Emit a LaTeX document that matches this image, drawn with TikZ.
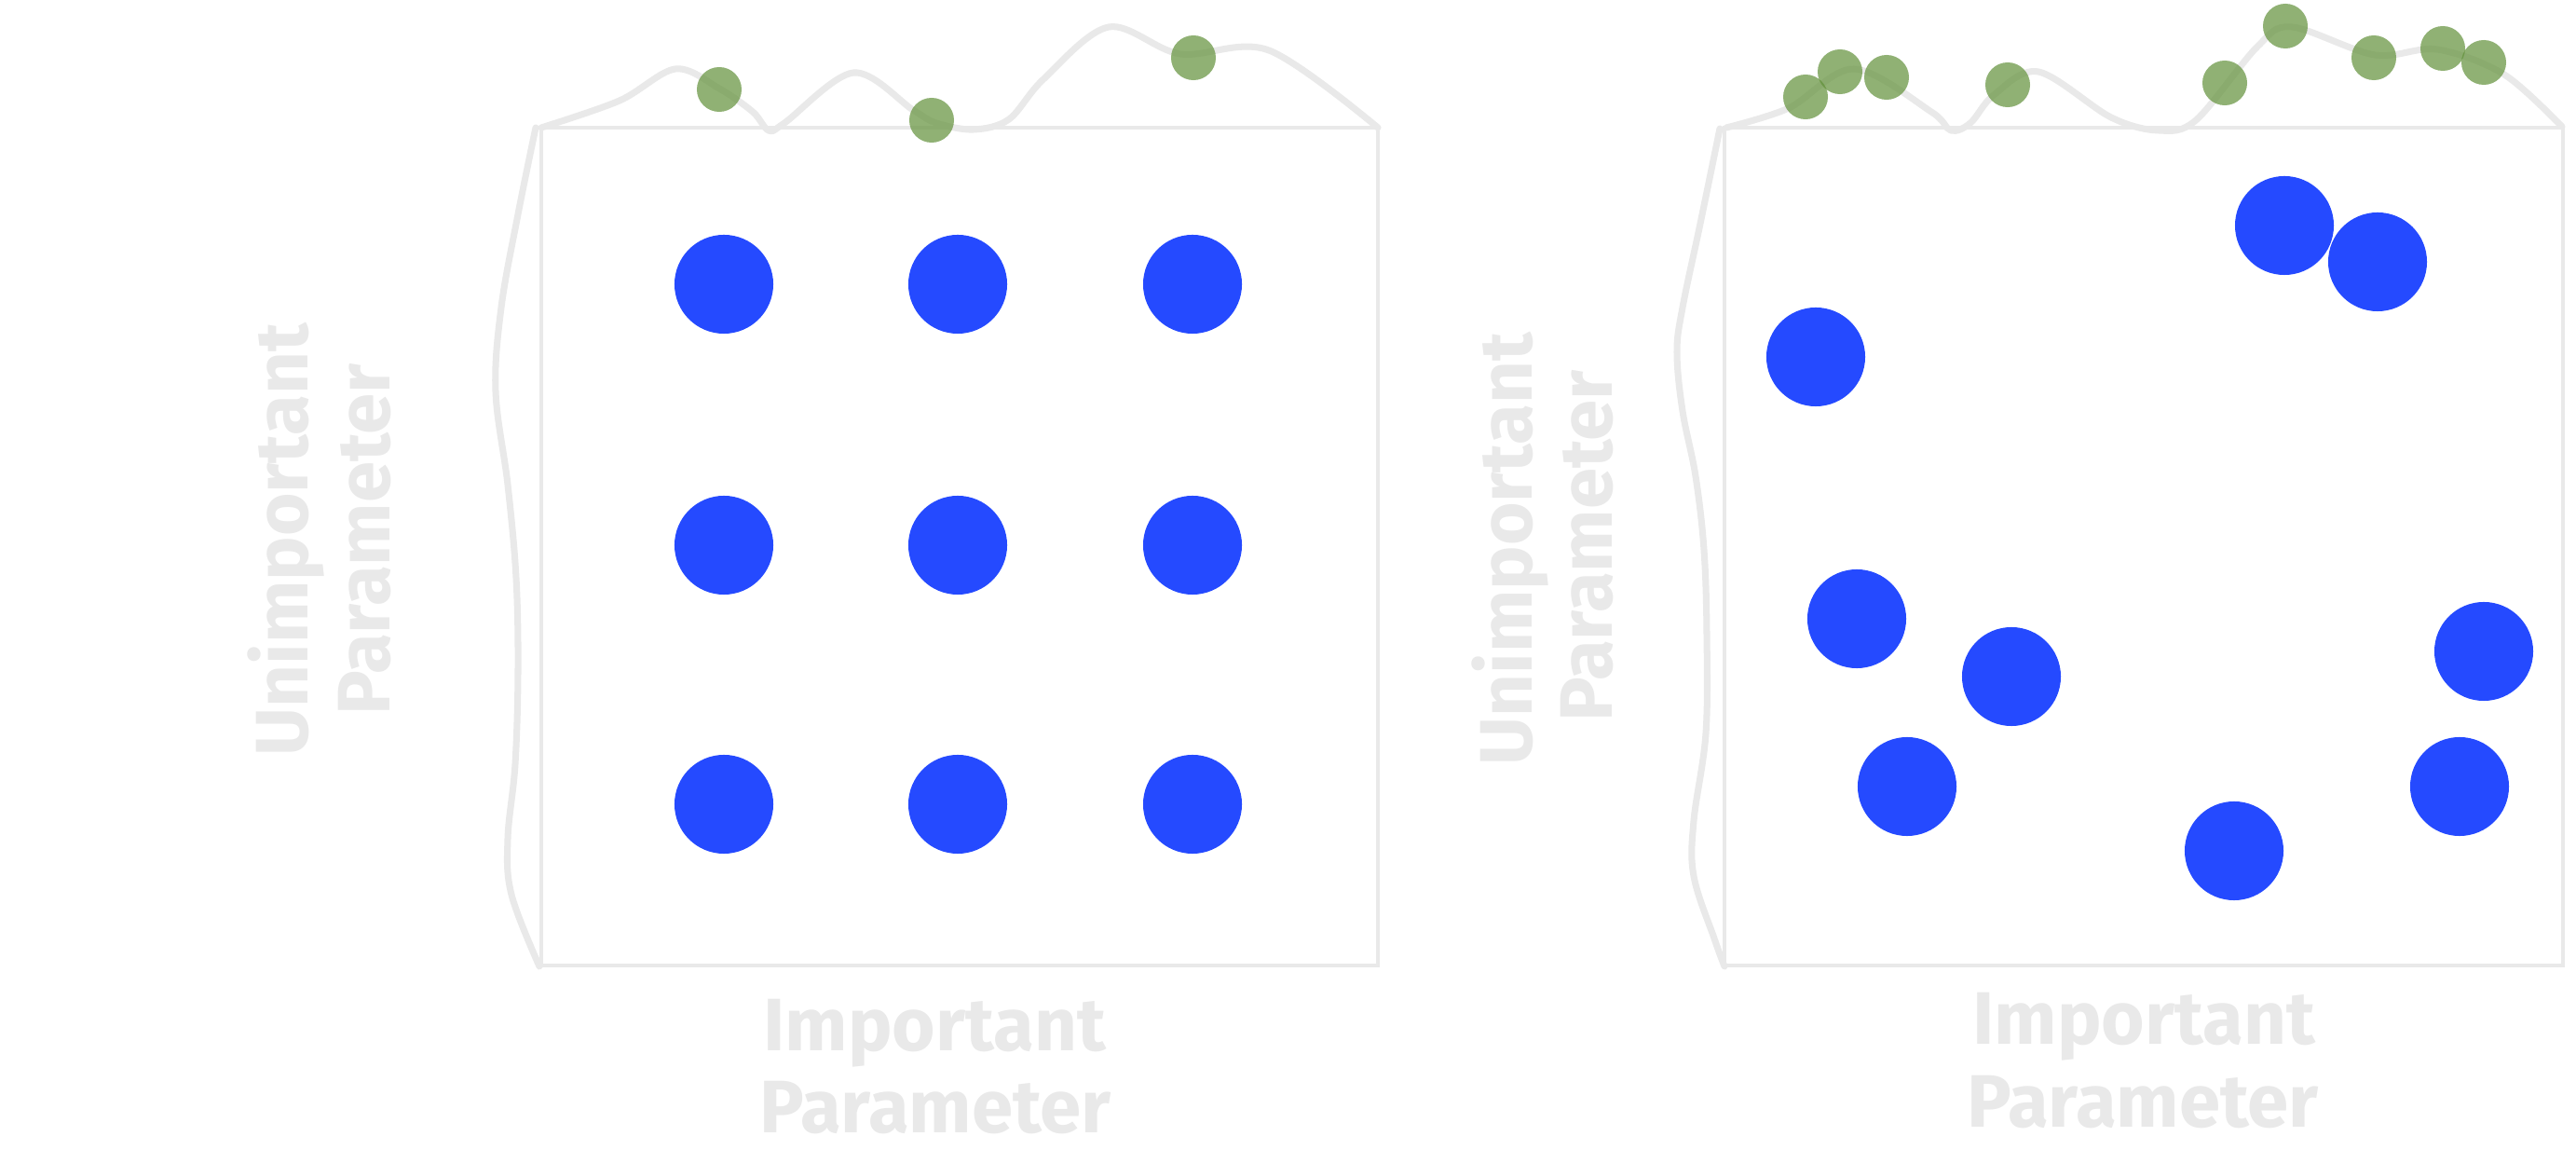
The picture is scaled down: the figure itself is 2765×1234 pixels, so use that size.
\documentclass[tikz,border=0pt]{standalone}
\usepackage{fontspec}
\setmainfont{Fira Sans}
\definecolor{faint}{RGB}{233,233,233}
\definecolor{dotblue}{RGB}{37,74,255}
\definecolor{dotgreen}{RGB}{98,145,58}
\tikzset{
  frame/.style={draw=faint, line width=1.25pt},
  sketch/.style={draw=faint, line width=2pt, line cap=round, line join=round},
  bluedot/.style={circle, fill=dotblue, draw=none, inner sep=0pt, minimum size=1.06cm},
  greendot/.style={circle, fill=dotgreen, fill opacity=0.7, draw=none, inner sep=0pt, minimum size=0.48cm},
  axlabel/.style={text=faint, font=\fontsize{22.7}{25}\selectfont\bfseries, inner sep=0pt, anchor=base}
}
\begin{document}
\begin{tikzpicture}[x=0.01cm,y=-0.01cm]
\useasboundingbox (0,0) rectangle (2765,1234);
\fill[white] (0,0) rectangle (2765,1234);

% ---------- left panel ----------
\draw[frame] (581,137) rectangle (1479,1036);
\draw[sketch] plot[smooth, tension=0.55] coordinates {(581,137) (665,108) (725,74) (772,95) (808,120) (825,140) (842,132) (916,78) (980,118) (1005,132) (1045,139) (1083,128) (1120,85) (1190,29) (1267,58) (1362,54) (1479,137)};
\draw[sketch] plot[smooth, tension=0.6] coordinates {(575,137) (556,230) (538,330) (532,420) (545,520) (554,620) (556,720) (553,820) (545,900) (549,960) (579,1037)};

\foreach \n/\x/\y in {L1/777/305, L2/1028/305, L3/1280/305,
                      L4/777/585, L5/1028/585, L6/1280/585,
                      L7/777/863, L8/1028/863, L9/1280/863}
  \node[bluedot] (\n) at (\x,\y) {};
\foreach \n/\x/\y in {gL1/772/96, gL2/1000/129, gL3/1281/62}
  \node[greendot] (\n) at (\x,\y) {};

\node[axlabel] (xl1a) at (1003,1128) {Important};
\node[axlabel] (xl1b) at (1004,1216) {Parameter};
\node[axlabel, rotate=90] (yl1a) at (330,579) {Unimportant};
\node[axlabel, rotate=90] (yl1b) at (418.6,579) {Parameter};

% ---------- right panel ----------
\draw[frame] (1851,137) rectangle (2751,1036);
\draw[sketch] plot[smooth, tension=0.55] coordinates {(1853,137) (1920,116) (1990,74) (2073,120) (2094,140) (2115,132) (2140,102) (2188,77) (2266,126) (2317,140) (2357,129) (2423,50) (2460,29) (2549,59) (2616,53) (2688,80) (2750,136)};
\draw[sketch] plot[smooth, tension=0.6] coordinates {(1846,138) (1825,240) (1806,330) (1800,378) (1806,441) (1820,511) (1829,590) (1832,680) (1831,787) (1818,881) (1818,940) (1840,1007) (1851,1037)};

\foreach \n/\x/\y in {R1/1949/383, R2/2452/242, R3/2552/281,
                      R4/1993/664, R5/2159/726, R6/2047/844,
                      R7/2398/913, R8/2666/699, R9/2640/844}
  \node[bluedot] (\n) at (\x,\y) {};
\foreach \n/\x/\y in {gR1/1938/104, gR2/1975/77, gR3/2025/83, gR4/2155/91,
                      gR5/2388/89, gR6/2453/28, gR7/2548/62, gR8/2622/52, gR9/2666/67}
  \node[greendot] (\n) at (\x,\y) {};

\node[axlabel] (xl2a) at (2301,1121) {Important};
\node[axlabel] (xl2b) at (2300,1210) {Parameter};
\node[axlabel, rotate=90] (yl2a) at (1644,589) {Unimportant};
\node[axlabel, rotate=90] (yl2b) at (1730,586) {Parameter};
\end{tikzpicture}
\end{document}
